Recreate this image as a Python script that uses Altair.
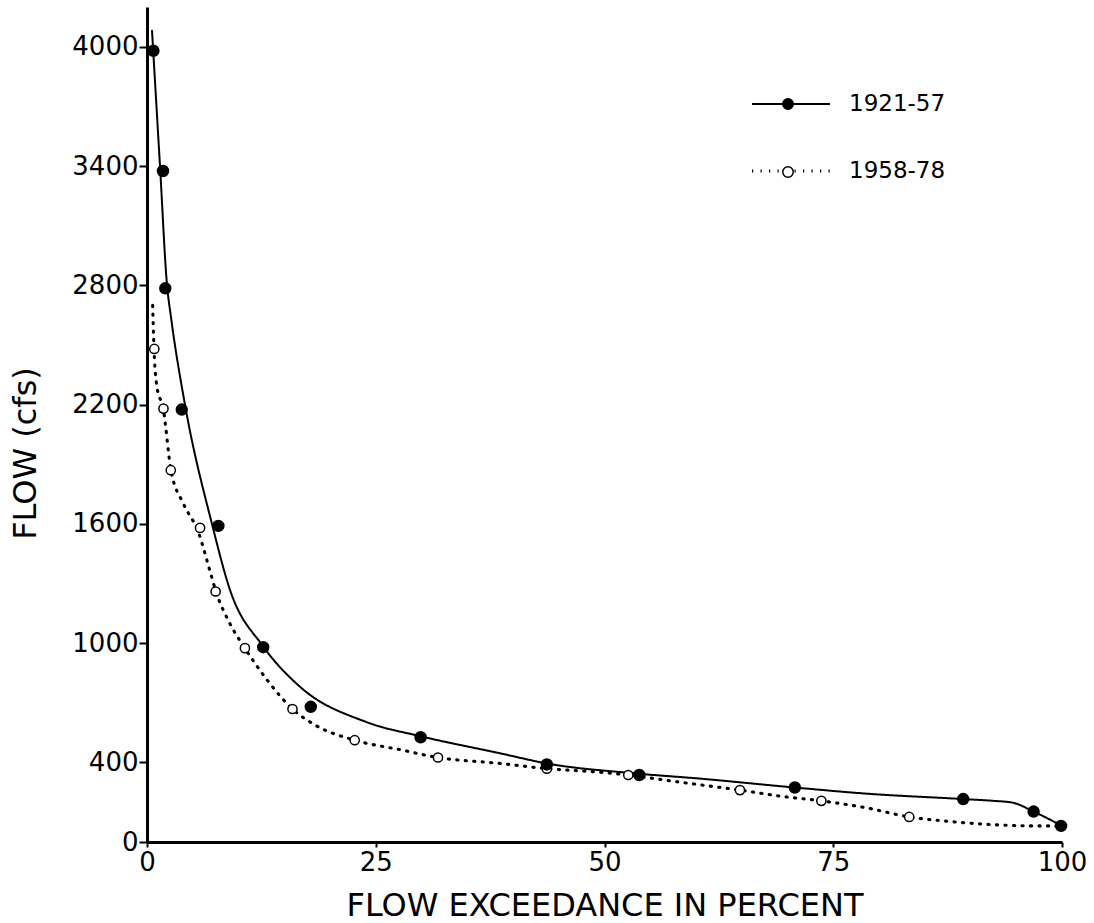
import altair as alt
import pandas as pd

# ---- data ----
periods = ["1921-57", "1958-78"]

# 1921-57: plotted points (filled dots)
pts1_x = [0.7, 1.75, 2.0, 3.8, 7.8, 12.7, 17.9, 29.9, 43.7, 53.8, 70.8, 89.2, 96.9, 99.9]
pts1_y = [3980, 3375, 2785, 2175, 1590, 980, 680, 527, 390, 337, 274, 216, 153, 81]

# 1958-78: plotted points (open circles)
pts2_x = [0.8, 1.8, 2.6, 5.8, 7.5, 10.7, 15.9, 22.7, 31.8, 43.7, 52.6, 64.8, 73.7, 83.3]
pts2_y = [2480, 2180, 1870, 1580, 1260, 975, 669, 512, 425, 369, 337, 261, 207, 126]

# 1921-57: fitted curve (solid)
crv1_x = [0.55, 1.42, 2.19, 2.62, 4.15, 7.1, 9.07, 12.68, 16.72, 24.0, 29.9, 38.6,
          43.7, 53.1, 60.4, 70.8, 78.7, 89.2, 92.5, 94.6, 96.9, 100.0]
crv1_y = [4080, 3400, 2800, 2641, 2200, 1600, 1268, 985, 781, 603, 532, 446,
          395, 346, 319, 274, 243, 216, 207, 198, 153, 81]

# 1958-78: fitted curve (dotted)
crv2_x = [0.62, 0.77, 1.06, 1.78, 2.62, 4.0, 5.6, 6.9, 7.54, 8.97, 10.7, 13.1, 15.9,
          18.5, 22.7, 27.6, 31.8, 38.6, 43.7, 49.5, 52.6, 56.8, 60.4, 64.8,
          69.5, 73.7, 78.7, 83.3, 87.8, 91.4, 96.8, 100.0]
crv2_y = [2699, 2477, 2297, 2178, 1870, 1700, 1560, 1360, 1259, 1107, 975, 817, 669,
          585, 512, 465, 425, 395, 369, 351, 337, 310, 288, 261,
          229, 207, 171, 126, 103, 90, 81, 81]

y_ticks = [0, 400, 1000, 1600, 2200, 2800, 3400, 4000]
x_ticks = [0, 25, 50, 75, 100]

FONT = "DejaVu Sans"

curves = pd.concat([
    pd.DataFrame({"x": crv1_x, "y": crv1_y, "period": periods[0]}),
    pd.DataFrame({"x": crv2_x, "y": crv2_y, "period": periods[1]}),
], ignore_index=True)

points = pd.concat([
    pd.DataFrame({"x": pts1_x, "y": pts1_y, "marker": periods[0]}),
    pd.DataFrame({"x": pts2_x, "y": pts2_y, "marker": periods[1]}),
], ignore_index=True)

x_enc = alt.X("x:Q",
              scale=alt.Scale(domain=[0, 100], nice=False),
              axis=alt.Axis(values=x_ticks, format="d", grid=False, tickSize=5, tickWidth=2,
                            tickColor="black", domainColor="black", domainWidth=3,
                            labelFont=FONT, labelFontSize=26, labelColor="black",
                            labelPadding=2, labelFlush=False,
                            title="FLOW EXCEEDANCE IN PERCENT", titleFont=FONT,
                            titleFontSize=32, titleFontWeight="normal", titleColor="black",
                            titleX=457.5, titleY=73, titleAlign="center",
                            titleBaseline="alphabetic"))
y_enc = alt.Y("y:Q",
              scale=alt.Scale(domain=[0, 4200], nice=False),
              axis=alt.Axis(values=y_ticks, format="d", grid=False, tickSize=8, tickWidth=2,
                            tickColor="black", domainColor="black", domainWidth=3,
                            labelFont=FONT, labelFontSize=26, labelColor="black",
                            labelPadding=1, labelFlush=False,
                            title="FLOW (cfs)", titleFont=FONT, titleFontSize=32,
                            titleFontWeight="normal", titleColor="black",
                            titleX=-122, titleY=446, titleAngle=270,
                            titleAlign="center", titleBaseline="middle"))

lines = alt.Chart(curves).mark_line(color="black", interpolate="monotone",
                                    strokeCap="round").encode(
    x=x_enc,
    y=y_enc,
    strokeDash=alt.StrokeDash(
        "period:N",
        scale=alt.Scale(domain=periods, range=[[1, 0], [1.2, 7.3]]),
        legend=alt.Legend(orient="none", legendX=603, legendY=57, title=None,
                          symbolType="stroke", symbolSize=6084, symbolStrokeWidth=3,
                          symbolStrokeColor="black", labelFont=FONT, labelFontSize=23,
                          labelColor="black", labelOffset=17, rowPadding=14, padding=0),
    ),
    strokeWidth=alt.StrokeWidth("period:N",
                                scale=alt.Scale(domain=periods, range=[2, 3.1]),
                                legend=None),
)

fill_scale = alt.Scale(range=["black", "white"])
fill_legend = alt.Legend(orient="none", legendX=635, legendY=91, title=None,
                         symbolType="circle", symbolSize=110, symbolStrokeColor="black",
                         symbolStrokeWidth=1.5, labelExpr="''", rowPadding=50, padding=0)

open_pts = alt.Chart(points).transform_filter(
    alt.datum.marker == periods[1]
).mark_point(filled=True, shape="circle", size=85, stroke="black",
             strokeWidth=1.5, opacity=1).encode(
    x="x:Q", y="y:Q",
    fill=alt.Fill("marker:N", scale=fill_scale, legend=fill_legend),
)

solid_pts = alt.Chart(points).transform_filter(
    alt.datum.marker == periods[0]
).mark_point(filled=True, shape="circle", size=120, stroke="black",
             strokeWidth=1.5, opacity=1).encode(
    x="x:Q", y="y:Q",
    fill=alt.Fill("marker:N", scale=fill_scale, legend=fill_legend),
)

chart = alt.layer(lines, open_pts, solid_pts).properties(
    width=915, height=835,
    autosize=alt.AutoSizeParams(type="none"),
    padding={"left": 147, "top": 7, "right": 32, "bottom": 81},
    background="white",
).configure_view(stroke=None)

chart.save("out.html", embed_options={"renderer": "svg", "actions": False})
